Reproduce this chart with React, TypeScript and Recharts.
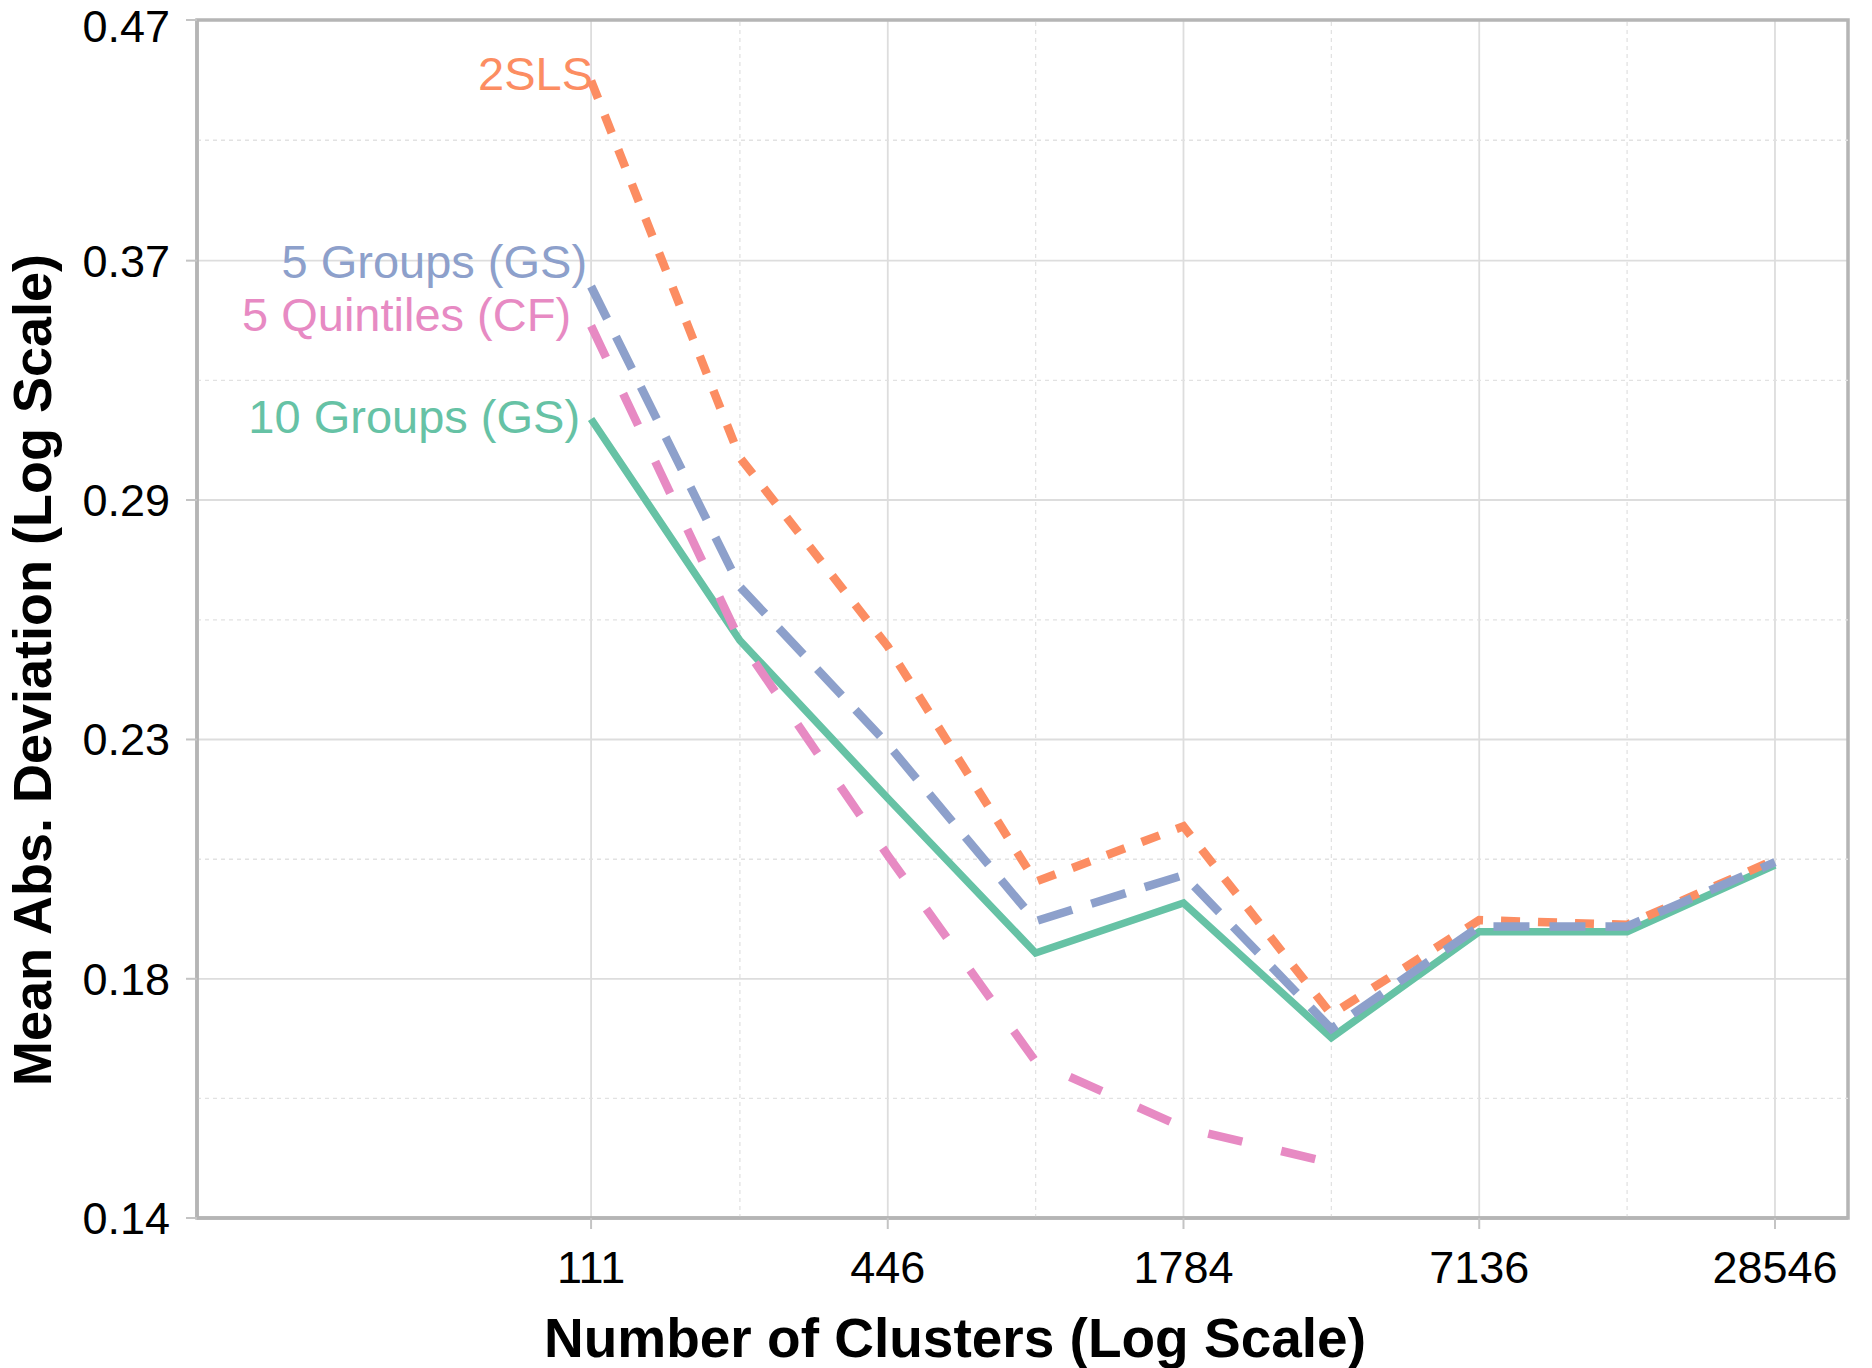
import React from 'react';
import {
  LineChart,
  Line,
  XAxis,
  YAxis,
  CartesianGrid,
  ReferenceLine,
  ReferenceArea,
  LabelList,
} from 'recharts';

// Number of clusters (x, log scale)
const clusters = [111, 223, 446, 892, 1784, 3568, 7136, 14273, 28546];

// Mean absolute deviation per estimator
const tenGroups = [0.314, 0.251, 0.214, 0.183, 0.1925, 0.168, 0.187, 0.187, 0.2];
const fiveGroups = [0.359, 0.265, 0.226, 0.189, 0.198, 0.1695, 0.188, 0.188, 0.2006];
const fiveQuintiles = [0.345, 0.251, 0.202, 0.164, 0.1534, 0.148, null, null, null];
const tsls = [0.442, 0.302, 0.2495, 0.1967, 0.208, 0.172, 0.1892, 0.1883, 0.2011];

// Axis ticks
const xTicks = [111, 446, 1784, 7136, 28546];
const xMinorTicks = [223, 892, 3568, 14273];
const yTicks = [0.14, 0.1783, 0.2271, 0.2893, 0.3685, 0.47];
const yMinorTicks = [0.158, 0.2012, 0.2563, 0.3265, 0.4162];

const xDomain = [17.5, 40200];
const yDomain = [0.14, 0.47];

const FONT = '"Liberation Sans", Arial, sans-serif';
const FRAME = '#b5b5b5';

const data = clusters.map((c, i) => ({
  clusters: c,
  tenGroups: tenGroups[i],
  fiveGroups: fiveGroups[i],
  fiveQuintiles: fiveQuintiles[i],
  tsls: tsls[i],
}));

// drawing order: green under, blue on top
const series = [
  { key: 'tenGroups', name: '10 Groups (GS)', color: '#66c2a5', dash: undefined, width: 7.5, dx: -11, dy: 14 },
  { key: 'fiveQuintiles', name: '5 Quintiles (CF)', color: '#e78ac3', dash: '35 40', width: 8.5, dx: -20, dy: 5 },
  { key: 'tsls', name: '2SLS', color: '#fc8d62', dash: '19 18', width: 8.5, dx: 2, dy: 9 },
  { key: 'fiveGroups', name: '5 Groups (GS)', color: '#8da0cb', dash: '36 20', width: 8.5, dx: -4, dy: -8 },
];

// label drawn at the first point of each line, right-aligned
function startLabel(s: (typeof series)[number]) {
  // eslint-disable-next-line @typescript-eslint/no-explicit-any
  return (props: any) => {
    const first = (data[0] as any)[s.key];
    if (props.index !== undefined && props.index !== 0) return null;
    if (props.index === undefined && props.value !== first) return null;
    const x = props.viewBox?.x ?? props.x;
    const y = props.viewBox?.y ?? props.y;
    if (x == null || y == null) return null;
    return (
      <text
        x={x + s.dx}
        y={y + s.dy}
        textAnchor="end"
        fill={s.color}
        fontSize={47}
        fontFamily={FONT}
      >
        {s.name}
      </text>
    );
  };
}

const YTitle = () => (
  <text
    x={32}
    y={670}
    transform="rotate(-90 32 670)"
    textAnchor="middle"
    dominantBaseline="central"
    fontSize={54}
    fontWeight="bold"
    fontFamily={FONT}
    fill="#000"
  >
    Mean Abs. Deviation (Log Scale)
  </text>
);

const XTitle = () => (
  <text
    x={955}
    y={1357}
    textAnchor="middle"
    fontSize={55}
    fontWeight="bold"
    fontFamily={FONT}
    fill="#000"
  >
    Number of Clusters (Log Scale)
  </text>
);

export default function App() {
  return (
    <div style={{ position: 'absolute', left: 0, top: 0, background: '#fff' }}>
      <LineChart
        width={1872}
        height={1368}
        data={data}
        margin={{ top: 20, right: 24, bottom: 50, left: 0 }}
      >
        <CartesianGrid stroke="#dddddd" strokeWidth={1.8} />
        {xMinorTicks.map((v) => (
          <ReferenceLine key={'xm' + v} x={v} stroke="#e2e2e2" strokeWidth={1.3} strokeDasharray="4 4" />
        ))}
        {yMinorTicks.map((v) => (
          <ReferenceLine key={'ym' + v} y={v} stroke="#e2e2e2" strokeWidth={1.3} strokeDasharray="4 4" />
        ))}
        <ReferenceArea
          x1={xDomain[0]}
          x2={xDomain[1]}
          y1={yDomain[0]}
          y2={yDomain[1]}
          fill="none"
          fillOpacity={0}
          stroke={FRAME}
          strokeWidth={3.5}
        />
        <XAxis
          dataKey="clusters"
          type="number"
          scale="log"
          domain={xDomain}
          allowDataOverflow
          ticks={xTicks}
          height={100}
          tickSize={11}
          tickMargin={22}
          axisLine={{ stroke: FRAME, strokeWidth: 3.5 }}
          tickLine={{ stroke: '#c4c4c4', strokeWidth: 2 }}
          tick={{ fontSize: 45, fill: '#000', fontFamily: FONT }}
          label={<XTitle />}
        />
        <YAxis
          type="number"
          scale="log"
          domain={yDomain}
          allowDataOverflow
          ticks={yTicks}
          tickFormatter={(v: number) => v.toFixed(2)}
          width={197}
          tickSize={11}
          tickMargin={16}
          axisLine={{ stroke: FRAME, strokeWidth: 3.5 }}
          tickLine={{ stroke: '#c4c4c4', strokeWidth: 2 }}
          tick={{ fontSize: 45, fill: '#000', fontFamily: FONT }}
          label={<YTitle />}
        />
        {series.map((s) => (
          <Line
            key={s.key}
            type="linear"
            dataKey={s.key}
            stroke={s.color}
            strokeWidth={s.width}
            strokeDasharray={s.dash}
            dot={false}
            activeDot={false}
            connectNulls={false}
            isAnimationActive={false}
          >
            <LabelList dataKey={s.key} content={startLabel(s)} />
          </Line>
        ))}
      </LineChart>
    </div>
  );
}
